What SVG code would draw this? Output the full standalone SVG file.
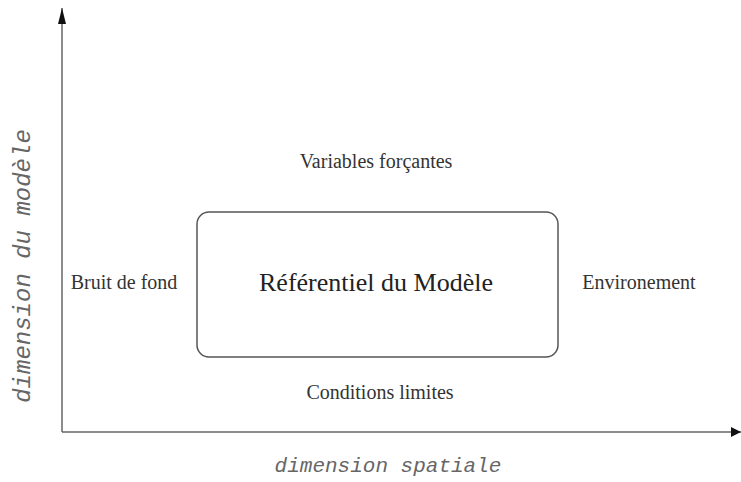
<svg xmlns="http://www.w3.org/2000/svg" width="741" height="482" viewBox="0 0 741 482">
  <style>
    .axis { stroke: #666; stroke-width: 1.5; fill: none; }
    .box { stroke: #555; stroke-width: 1.5; fill: #fff; }
    .lbl { font-family: "Liberation Serif", "Times New Roman", serif; font-size: 20px; fill: #333; text-anchor: middle; }
    .title { font-family: "Liberation Serif", "Times New Roman", serif; font-size: 26px; fill: #222; text-anchor: middle; }
    .axlbl { font-family: "Liberation Mono", "Courier New", monospace; font-style: italic; fill: #666; text-anchor: middle; }
  </style>
  <defs>
    <marker id="arrow" viewBox="0 0 10 10" refX="10" refY="5" markerWidth="10" markerHeight="10" markerUnits="userSpaceOnUse" orient="auto">
      <path d="M0,0 L10,5 L0,10 Z" fill="#111"/>
    </marker>
    <marker id="arrowUp" viewBox="0 0 16 8" refX="16" refY="4" markerWidth="16" markerHeight="8" markerUnits="userSpaceOnUse" orient="auto">
      <path d="M0,0 L16,4 L0,8 Z" fill="#111"/>
    </marker>
  </defs>
  <rect width="741" height="482" fill="#fff"/>

  <!-- axes -->
  <g id="connectors">
    <line class="axis" x1="62" y1="432" x2="62" y2="8" marker-end="url(#arrowUp)"/>
    <line class="axis" x1="62" y1="432" x2="741" y2="432" marker-end="url(#arrow)"/>
  </g>

  <!-- axis titles -->
  <text class="axlbl" x="388" y="472" font-size="21">dimension spatiale</text>
  <text class="axlbl" font-size="24" transform="translate(30 266) rotate(-90)">dimension du modèle</text>

  <!-- central frame -->
  <g id="referentiel">
    <rect class="box" x="197" y="212" width="361" height="145" rx="12" ry="12"/>
    <text class="title" x="376" y="291">Référentiel du Modèle</text>
  </g>

  <g id="variables">
    <text class="lbl" x="376" y="168">Variables forçantes</text>
  </g>
  <g id="bruit">
    <text class="lbl" x="124" y="289">Bruit de fond</text>
  </g>
  <g id="environement">
    <text class="lbl" x="639" y="289">Environement</text>
  </g>
  <g id="conditions">
    <text class="lbl" x="380" y="399">Conditions limites</text>
  </g>
</svg>
